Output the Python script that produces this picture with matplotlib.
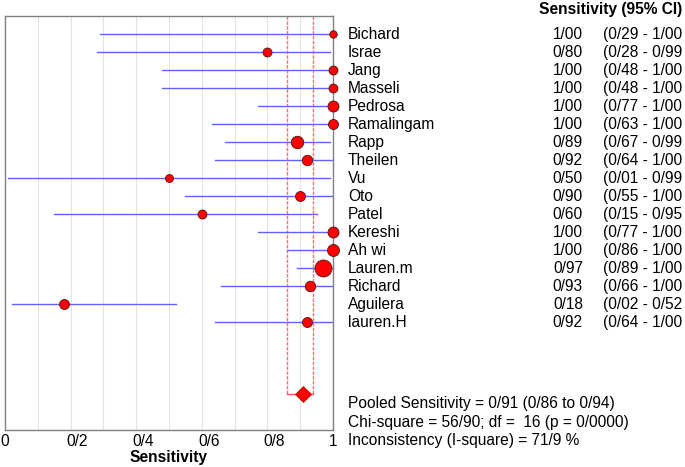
import matplotlib.pyplot as plt
import matplotlib.transforms as mtransforms

plt.rcParams['font.family'] = ['Liberation Sans', 'DejaVu Sans']

# Study data
studies = ['Bichard', 'Israe', 'Jang', 'Masseli', 'Pedrosa', 'Ramalingam', 'Rapp',
           'Theilen', 'Vu', 'Oto', 'Patel', 'Kereshi', 'Ah wi', 'Lauren.m',
           'Richard', 'Aguilera', 'lauren.H']
sens = [1.00, 0.80, 1.00, 1.00, 1.00, 1.00, 0.89, 0.92, 0.50, 0.90, 0.60,
        1.00, 1.00, 0.97, 0.93, 0.18, 0.92]
ci_low = [0.29, 0.28, 0.48, 0.48, 0.77, 0.63, 0.67, 0.64, 0.01, 0.55, 0.15,
          0.77, 0.86, 0.89, 0.66, 0.02, 0.64]
ci_high = [1.00, 0.99, 1.00, 1.00, 1.00, 1.00, 0.99, 1.00, 0.99, 1.00, 0.95,
           1.00, 1.00, 1.00, 1.00, 0.52, 1.00]
# relative study weights (drive marker size)
weights = [7.5, 9, 9, 9, 11, 10, 12.5, 10.5, 8, 10, 9, 11, 12, 17, 10.5, 10, 10]

pooled = 0.91
pooled_low = 0.86
pooled_high = 0.94
stats_lines = ['Pooled Sensitivity = 0/91 (0/86 to 0/94)',
               'Chi-square = 56/90; df =  16 (p = 0/0000)',
               'Inconsistency (I-square) = 71/9 %']
tick_vals = [0, 0.2, 0.4, 0.6, 0.8, 1]
tick_labels = ['0', '0/2', '0/4', '0/6', '0/8', '1']


def fmt_slash(v):
    return ('%.2f' % v).replace('.', '/')


FS = 11.2

fig = plt.figure(figsize=(6.85, 4.67), dpi=100)
ax = fig.add_axes([0.0073, 0.0792, 0.4788, 0.8865])

n = len(studies)
pooled_y = n + 3

# grid
for gx in [0.1 * i for i in range(1, 10)]:
    ax.axvline(gx, color='#e3e3e3', lw=0.8, zorder=0)

# pooled CI dashed lines + bar
pink = '#ff3030'
ax.plot([pooled_low, pooled_low], [-1, pooled_y], color=pink, alpha=0.7, lw=1.0, ls=(0, (2.5, 1)), zorder=1)
ax.plot([pooled_high, pooled_high], [-1, pooled_y], color=pink, alpha=0.7, lw=1.0, ls=(0, (2.5, 1)), zorder=1)
ax.plot([pooled_low, pooled_high], [pooled_y, pooled_y], color=pink, alpha=0.8, lw=1.0, zorder=1)

for i in range(n):
    ax.plot([ci_low[i], ci_high[i]], [i, i], color='#6262ff', lw=1.0, zorder=2)
    ax.plot(sens[i], i, 'o', ms=weights[i] * 0.72, mfc='red', mec='#4a1a1a', mew=0.6, zorder=3, clip_on=False)

ax.plot(pooled, pooled_y, 'D', ms=8, mfc='red', mec='#a00000', mew=0.5, zorder=4)

ax.set_xlim(0, 1)
ax.set_ylim(22, -1)
ax.set_yticks([])
ax.set_xticks(tick_vals)
ax.set_xticklabels([''] * len(tick_vals))
ax.tick_params(axis='x', length=0)
for s in ax.spines.values():
    s.set_color('#808080')
    s.set_linewidth(1.0)

# tick labels: the inner ones sit a little right of their ticks in the original
xtrans = mtransforms.blended_transform_factory(ax.transData, ax.transAxes)
for k, (tv, tl) in enumerate(zip(tick_vals, tick_labels)):
    off = 0 if k in (0, len(tick_vals) - 1) else 0.021
    ax.text(tv + off, -0.027, tl, transform=xtrans, ha='center', va='center',
            fontsize=FS, clip_on=False)
ax.text(0.5, -0.066, 'Sensitivity', transform=ax.transAxes, ha='center', va='center',
        fontsize=FS, fontweight='bold', clip_on=False)

trans = mtransforms.blended_transform_factory(ax.transAxes, ax.transData)
for i in range(n):
    ax.text(1.046, i, studies[i], transform=trans, ha='left', va='center', fontsize=FS, clip_on=False)
    ax.text(1.762, i, fmt_slash(sens[i]), transform=trans, ha='right', va='center', fontsize=FS, clip_on=False)
    ax.text(1.823, i, '(%s - %s' % (fmt_slash(ci_low[i]), fmt_slash(ci_high[i])), transform=trans,
            ha='left', va='center', fontsize=FS, clip_on=False)

ax.text(2.064, -1.38, 'Sensitivity (95% CI)', transform=trans, ha='right', va='center',
        fontsize=FS, fontweight='bold', clip_on=False)

for k, line in enumerate(stats_lines):
    ax.text(1.046, pooled_y + 0.55 + k * 1.03, line, transform=trans, ha='left', va='center',
            fontsize=FS, clip_on=False)

plt.savefig('out.png', dpi=100)
plt.close()
